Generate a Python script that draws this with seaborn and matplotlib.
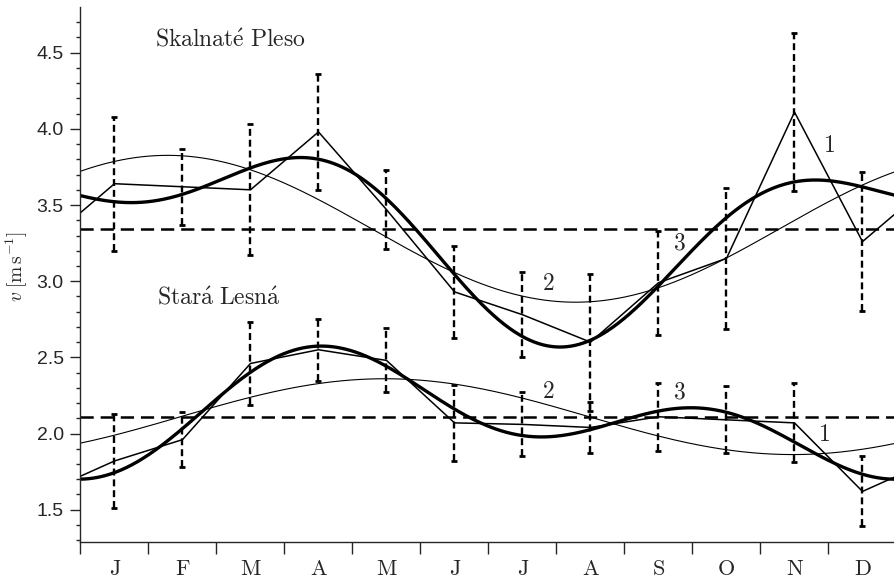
import numpy as np
import pandas as pd
import matplotlib
matplotlib.use("Agg")
import matplotlib.pyplot as plt
import seaborn as sns

# Monthly mean wind speed and its spread at two stations
months = ["J", "F", "M", "A", "M", "J", "J", "A", "S", "O", "N", "D"]
sp_mean = [3.64, 3.62, 3.60, 3.98, 3.47, 2.93, 2.78, 2.60, 2.99, 3.15, 4.11, 3.26]
sp_err = [0.44, 0.25, 0.43, 0.38, 0.26, 0.30, 0.28, 0.45, 0.34, 0.465, 0.52, 0.455]
sl_mean = [1.82, 1.96, 2.46, 2.55, 2.48, 2.07, 2.06, 2.04, 2.11, 2.09, 2.07, 1.62]
sl_err = [0.31, 0.18, 0.275, 0.205, 0.21, 0.25, 0.21, 0.165, 0.225, 0.22, 0.26, 0.23]

station_names = [r"$\mathrm{Skalnat\acute{e}\ Pleso}$", r"$\mathrm{Star\acute{a}\ Lesn\acute{a}}$"]

sns.set_style("ticks")
plt.rcParams.update({
    "font.family": ["Liberation Sans", "DejaVu Sans"],
    "mathtext.fontset": "cm",
    "lines.scale_dashes": False,
    "axes.linewidth": 1.0,
})

fig = plt.figure(figsize=(8.95, 5.83), dpi=100)
ax = fig.add_axes([80.5 / 895, 41.3 / 583, 816 / 895, 534.7 / 583])

x_mid = np.arange(12) + 0.5
grid = np.linspace(0, 12, 600)


def harmonic_sum(vals, orders, x):
    """Mean plus the chosen Fourier harmonics of a 12-month cycle."""
    vals = np.asarray(vals)
    th = 2 * np.pi * x_mid / 12
    phi = 2 * np.pi * x / 12
    out = np.full_like(x, vals.mean())
    for k in orders:
        a = 2 / 12 * np.sum(vals * np.cos(k * th))
        b = 2 / 12 * np.sum(vals * np.sin(k * th))
        out = out + a * np.cos(k * phi) + b * np.sin(k * phi)
    return out


for mean, err in [(sp_mean, sp_err), (sl_mean, sl_err)]:
    # monthly means, wrapped one month on either side of the year
    wrap = pd.DataFrame({
        "x": np.concatenate([[-0.5], x_mid, [12.5]]),
        "v": [mean[-1]] + list(mean) + [mean[0]],
    })
    sns.lineplot(data=wrap, x="x", y="v", estimator=None, sort=False,
                 color="black", lw=1.1, ax=ax)

    h1 = pd.DataFrame({"x": grid, "v": harmonic_sum(mean, [1], grid)})
    sns.lineplot(data=h1, x="x", y="v", estimator=None, sort=False,
                 color="black", lw=0.8, ax=ax)

    h12 = pd.DataFrame({"x": grid, "v": harmonic_sum(mean, [1, 2], grid)})
    sns.lineplot(data=h12, x="x", y="v", estimator=None, sort=False,
                 color="black", lw=2.4, ax=ax)

    ax.axhline(np.mean(mean), color="black", lw=1.8, ls=(0, (9.5, 5)))

    eb = ax.errorbar(x_mid, mean, yerr=err, fmt="none", ecolor="black",
                     elinewidth=1.7, capsize=2.2, capthick=2.0)
    eb[2][0].set_linestyle((0, (5, 2.8)))

# station names and curve numbers
ax.text(1.1, 4.58, station_names[0], ha="left", va="center", fontsize=17)
ax.text(1.12, 2.89, station_names[1], ha="left", va="center", fontsize=17)
for tag, x, y in [("2", 6.88, 2.98), ("3", 8.82, 3.25), ("1", 11.02, 3.89),
                  ("2", 6.88, 2.27), ("3", 8.82, 2.27), ("1", 10.95, 1.99)]:
    ax.text(x, y, tag, ha="center", va="center", family="cmr10", fontsize=17)

ax.set_xlim(0, 12)
ax.set_ylim(1.29, 4.8)
ax.set_xticks(np.arange(13))
ax.set_xticklabels([])
ax.set_xticks(x_mid, minor=True)
ax.set_xticklabels(months, minor=True, family="cmr10", fontsize=16)
ax.tick_params(axis="x", which="major", direction="out", length=8.5, width=1.0)
ax.tick_params(axis="x", which="minor", length=0, pad=13)

ax.set_yticks(np.arange(1.5, 4.51, 0.5))
ax.set_yticklabels([f"{v:.1f}" for v in np.arange(1.5, 4.51, 0.5)])
ax.set_yticks(np.arange(1.3, 4.75, 0.1), minor=True)
ax.tick_params(axis="y", which="major", direction="out", length=7, width=1.0,
               pad=5, labelsize=14)
ax.tick_params(axis="y", which="minor", direction="out", length=3.2, width=1.0)

ax.set_xlabel("")
ax.set_ylabel(r"$v\;[\mathrm{m\,s}^{-1}]$", fontsize=14)
ax.yaxis.set_label_coords(-0.062, 0.515)

sns.despine(ax=ax)
fig.savefig("out.png", dpi=100)
